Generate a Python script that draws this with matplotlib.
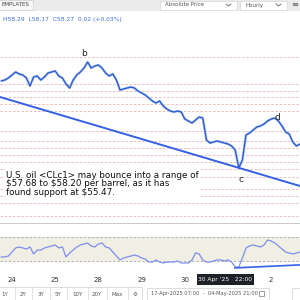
import matplotlib
matplotlib.use("Agg")
import matplotlib.pyplot as plt
from matplotlib.patches import Rectangle

# ---------------- data ----------------
# trading-hour index (0 = 24 Apr 00:00, weekend removed)
hours = list(range(-6, 161, 2))
price = [61.95, 62.00, 62.10, 62.25, 62.40, 62.30, 62.25, 62.10, 61.70, 62.15,
         62.20, 62.00, 62.15, 62.35, 62.40, 62.45, 62.20, 62.10, 61.80, 61.60,
         62.00, 62.25, 62.40, 62.60, 62.90, 62.60, 62.70, 62.75, 62.60, 62.35,
         62.20, 62.30, 62.00, 61.50, 61.55, 61.60, 61.65, 61.60, 61.45, 61.35,
         61.25, 61.10, 60.95, 60.85, 60.95, 60.70, 60.55, 60.45, 60.40, 60.45,
         60.40, 60.05, 59.95, 59.85, 60.00, 60.15, 60.10, 59.00, 58.85, 58.90,
         58.95, 58.90, 58.85, 58.80, 58.70, 58.50, 57.60, 58.00, 59.25, 59.35,
         59.50, 59.65, 59.70, 59.80, 59.95, 60.05, 60.10, 59.95, 59.70, 59.40,
         59.30, 58.90, 58.70, 58.80]
rsi = [36.7, 36.7, 38.3, 45.0, 51.7, 53.3, 51.7, 50.0, 53.3, 41.7,
       48.3, 48.3, 51.7, 53.3, 55.0, 56.7, 51.7, 53.3, 36.7, 43.3,
       48.3, 53.3, 56.7, 58.3, 60.0, 55.0, 53.3, 58.3, 60.0, 53.3,
       51.7, 45.0, 38.3, 31.7, 35.0, 36.7, 38.3, 40.0, 38.3, 35.0,
       33.3, 28.3, 28.3, 31.7, 28.3, 26.7, 28.3, 28.3, 28.3, 30.0,
       26.7, 26.7, 26.7, 31.7, 43.3, 41.7, 31.7, 28.3, 28.3, 30.0,
       31.7, 31.7, 30.0, 31.7, 28.3, 20.0, 20.0, 35.0, 51.7, 55.0,
       56.7, 55.0, 53.3, 56.7, 65.0, 63.3, 60.0, 55.0, 50.0, 45.0,
       43.3, 41.7, 43.3, 45.0]

levels = [63.15, 61.80, 61.45, 61.15, 60.80, 60.45, 59.45, 58.95, 58.60,
          58.25, 57.90, 57.55, 57.15, 56.55, 56.20, 55.85, 55.20]

trend_h = [-6.67, 160]
trend_p = [61.15, 56.70]
rsi_trend_h = [123.9, 160]
rsi_trend_v = [18.5, 23.5]

wave_labels = ["b", "c", "d"]
wave_h = [40.0, 127.2, 147.2]
wave_p = [63.35, 57.0, 60.15]

# "1" (May) sits under the crosshair date box in the reference
tick_h = [0, 24, 48, 72, 96, 144]
tick_labels = ["24", "25", "28", "29", "30", "2"]

note = ("U.S. oil <CLc1> may bounce into a range of\n"
        "$57.68 to $58.20 per barrel, as it has\n"
        "found support at $55.47.")

# ---------------- figure ----------------
W, H = 300, 300
fig = plt.figure(figsize=(3, 3), dpi=100)
fig.patch.set_facecolor("white")

def rect(top, bottom):
    return [0, 1 - bottom / H, 1, (bottom - top) / H]

# main price panel
ax = fig.add_axes(rect(12, 223))
ax.set_xlim(-6.67, 160)
ax.set_ylim(54.85, 65.40)
for s in ax.spines.values():
    s.set_visible(False)
ax.set_xticks([]); ax.set_yticks([])
for lv in levels:
    ax.axhline(lv, color="#e7b5b5", lw=0.6, ls=(0, (3, 2)), zorder=1)
ax.plot(hours, price, color="#aac3f4", lw=1.8, zorder=2, solid_capstyle="butt")
ax.plot(hours, price, color="#2b58c9", lw=0.9, zorder=3)
ax.plot(trend_h, trend_p, color="#3560e6", lw=1.4, zorder=4)
for lab, h, p in zip(wave_labels, wave_h, wave_p):
    ax.text(h, p, lab, fontsize=6.5, ha="center", va="center", color="#222222", zorder=5)
ax.text(0.02, 0.248, note, transform=ax.transAxes, fontsize=6.3, va="top", ha="left",
        color="#111111", linespacing=0.95, zorder=6, parse_math=False,
        bbox=dict(boxstyle="square,pad=0.15", fc="white", ec="none"))

# RSI panel
rax = fig.add_axes(rect(226, 273))
rax.set_xlim(-6.67, 160)
rax.set_ylim(10, 88.3)
for s in rax.spines.values():
    s.set_visible(False)
rax.set_xticks([]); rax.set_yticks([])
rax.axhspan(30, 70, color="#f1eee4", zorder=0, lw=0)
rax.axhline(70, color="#a8a8a0", lw=0.6, ls=(0, (3, 2)))
rax.axhline(30, color="#a8a8a0", lw=0.6, ls=(0, (3, 2)))
rax.plot(hours, rsi, color="#7d8ef0", lw=0.9, zorder=2)
rax.plot(rsi_trend_h, rsi_trend_v, color="#3560e6", lw=1.2, zorder=3)

# date axis labels
dax = fig.add_axes(rect(274, 286))
dax.set_xlim(-6.67, 160)
dax.set_ylim(0, 1)
dax.axis("off")
for h, lab in zip(tick_h, tick_labels):
    dax.text(h, 0.5, lab, fontsize=5, ha="center", va="center", color="#333333")

# UI chrome overlay (pixel coordinates)
ui = fig.add_axes([0, 0, 1, 1], facecolor="none")
ui.set_xlim(0, W); ui.set_ylim(H, 0)
ui.axis("off")
# top toolbar
ui.add_patch(Rectangle((0, 0), 300, 11, fc="#ebebeb", ec="none"))
ui.add_patch(Rectangle((-2, 0), 35, 10, fc="#f7f7f7", ec="#cfcfcf", lw=0.5))
ui.text(1, 5, "EMPLATES", fontsize=4, va="center", ha="left", color="#444444")
ui.add_patch(Rectangle((160, 0.5), 77, 9.5, fc="white", ec="#d6d6d6", lw=0.5))
ui.text(165, 5, "Absolute Price", fontsize=4, va="center", ha="left", color="#555555")
ui.plot([226, 228.5, 231], [4, 6, 4], color="#666666", lw=0.6)
ui.add_patch(Rectangle((240, 0.5), 47, 9.5, fc="white", ec="#d6d6d6", lw=0.5))
ui.text(245, 5, "Hourly", fontsize=4, va="center", ha="left", color="#555555")
ui.plot([276, 278.5, 281], [4, 6, 4], color="#666666", lw=0.6)
ui.text(295, 5, "\u2261", fontsize=6, va="center", ha="center", color="#555555")
# OHLC header
ui.text(3, 20, "H58.29  L58.17  C58.27  0.02 (+0.03%)", fontsize=4.3,
        va="center", ha="left", color="#3b6fd8")
# panel separator
ui.plot([0, 300], [223, 223], color="#c8c8c8", lw=0.7)
# crosshair date box
ui.add_patch(Rectangle((197, 273.5), 57, 11.5, fc="#1e2228", ec="none", zorder=5))
ui.text(225.5, 279.3, "30 Apr '25   22:00", fontsize=4.3, va="center", ha="center",
        color="white", zorder=6)
# bottom range buttons
ui.add_patch(Rectangle((-2, 287), 144, 14, fc="white", ec="#cfcfcf", lw=0.5))
for xs in [15, 32, 50, 67, 88, 107, 128]:
    ui.plot([xs, xs], [287, 301], color="#d6d6d6", lw=0.5)
for xs, lab in zip([5, 23, 41, 58, 77, 97, 117, 135],
                   ["1Y", "2Y", "3Y", "5Y", "10Y", "20Y", "Max", "\u2699"]):
    ui.text(xs, 294, lab, fontsize=4, va="center", ha="center", color="#555555")
ui.add_patch(Rectangle((147, 288), 122, 13, fc="white", ec="#cfcfcf", lw=0.5))
ui.text(151, 294, "17-Apr-2025 07:00  -  04-May-2025 21:00", fontsize=3.7,
        va="center", ha="left", color="#555555")
ui.add_patch(Rectangle((259, 290.5), 5, 5, fc="none", ec="#777777", lw=0.5))
ui.add_patch(Rectangle((292, 288), 12, 13, fc="white", ec="#cfcfcf", lw=0.5))

fig.savefig("out.png", dpi=100)
